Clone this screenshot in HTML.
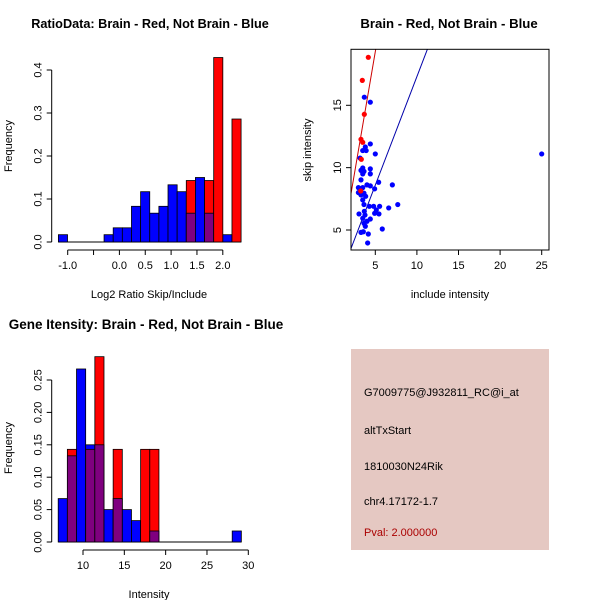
<!DOCTYPE html>
<html><head><meta charset="utf-8"><style>
body{margin:0;background:#fff;}
svg{display:block;font-family:"Liberation Sans",sans-serif;}
</style></head><body>
<svg id="c" width="600" height="600" xmlns="http://www.w3.org/2000/svg">
<rect width="600" height="600" fill="#fff"/>
</svg>
<script>
// ---- Data: ratio histogram
const ratioStart = -1.18;
const ratioBinW = 0.1767;
const ratioBlue = [0.017,0,0,0,0,0.017,0.033,0.033,0.083,0.117,0.067,0.083,0.133,0.117,0.067,0.15,0.067,0,0.017,0];
const ratioRed  = [0,0,0,0,0,0,0,0,0,0,0,0,0,0,0.143,0,0.143,0.429,0,0.286];
const ratioXTicks = [-1.0,-0.5,0.0,0.5,1.0,1.5,2.0];
const ratioXLabels = ["-1.0","","0.0","0.5","1.0","1.5","2.0"];
const ratioYTicks = [0,0.1,0.2,0.3,0.4];
const ratioYLabels = ["0.0","0.1","0.2","0.3","0.4"];
// ---- Data: intensity histogram
const intStart = 7;
const intBinW = 1.108;
const intBlue = [0.067,0.133,0.267,0.15,0.15,0.05,0.067,0.05,0.033,0,0.017,0,0,0,0,0,0,0,0,0.017];
const intRed  = [0,0.143,0,0.143,0.286,0,0.143,0,0,0.143,0.143,0,0,0,0,0,0,0,0,0];
const intXTicks = [10,15,20,25,30];
const intYTicks = [0,0.05,0.10,0.15,0.20,0.25];
const intYLabels = ["0.00","0.05","0.10","0.15","0.20","0.25"];
// ---- Data: scatter
const redX = [4.16,3.44,3.68,3.28,3.49,3.32,3.25];
const redY = [18.85,17.0,14.28,12.27,12.03,10.67,8.13];
const blueX = [3.68,4.4,4.4,3.8,3.49,3.9,5.0,3.17,25,3.49,3.28,3.64,4.4,4.4,3.49,3.28,5.4,7.05,4.0,4.4,2.97,3.49,4.92,2.97,3.64,3.28,3.84,3.49,3.64,4.28,4.8,5.52,7.7,6.61,5.12,3.04,3.68,3.76,4.92,5.44,3.49,4.4,4.0,3.64,3.8,5.84,3.28,3.56,4.16,4.08];
const blueY = [15.65,15.25,11.9,11.66,11.37,11.37,11.1,10.77,11.1,9.97,9.78,9.7,9.9,9.5,9.5,9.02,8.83,8.62,8.62,8.54,8.4,8.4,8.3,8.0,7.95,7.81,7.7,7.41,7.04,6.9,6.9,6.9,7.04,6.77,6.61,6.29,6.5,6.2,6.34,6.29,5.94,5.88,5.7,5.54,5.3,5.08,4.81,4.86,4.68,3.96];
const redLine = [3.9,-0.2];   // slope, intercept
const blueLine = [1.74,-0.1];
const scXTicks = [5,10,15,20,25];
const scYTicks = [5,10,15];

const svg = document.getElementById('c');
const NS = 'http://www.w3.org/2000/svg';
function mk(tag, attrs, parent){const e=document.createElementNS(NS,tag);for(const k in attrs)e.setAttribute(k,attrs[k]);(parent||svg).appendChild(e);return e;}
function txt(s, attrs){const e=mk('text',attrs);e.textContent=s;return e;}

function hist(gname, start, bw, blue, red, sx, sy){
  const g = mk('g',{});
  
  
  const base = mk('line',{x1:sx(start),x2:sx(start+blue.length*bw),y1:sy(0),y2:sy(0),stroke:'#000','stroke-width':1},g);
  
  
  for(let i=0;i<blue.length;i++){
    const x0=sx(start+i*bw), x1=sx(start+(i+1)*bw);
    const b=blue[i], r=red[i];
    const hi=Math.max(b,r), lo=Math.min(b,r);
    if(hi<=0) continue;
    const topCol = b>=r ? '#0000ff' : '#ff0000';
    const bar = mk('rect',{x:x0,y:sy(hi),width:x1-x0,height:sy(0)-sy(hi),fill:topCol,stroke:'#000','stroke-width':0.8},g);
    
    
    if(lo>0){
      const ov = mk('rect',{x:x0,y:sy(lo),width:x1-x0,height:sy(0)-sy(lo),fill:'#7f007f',stroke:'#000','stroke-width':0.8},g);
      
      
    }
  }
}
function yAxis(name, x, ticks, labels, sy){
  const g=mk('g',{});
  
  
  mk('line',{x1:x,x2:x,y1:sy(ticks[0]),y2:sy(ticks[ticks.length-1]),stroke:'#000'},g);
  ticks.forEach((t,i)=>{
    mk('line',{x1:x,x2:x-5,y1:sy(t),y2:sy(t),stroke:'#000'},g);
    const e=mk('text',{x:0,y:0,transform:`translate(${x-10},${sy(t)}) rotate(-90)`,'text-anchor':'middle','font-size':11},g);
    e.textContent=labels[i];
  });
}
function xAxis(name, y, ticks, labels, sx){
  const g=mk('g',{});
  
  
  mk('line',{x1:sx(ticks[0]),x2:sx(ticks[ticks.length-1]),y1:y,y2:y,stroke:'#000'},g);
  ticks.forEach((t,i)=>{
    mk('line',{x1:sx(t),x2:sx(t),y1:y,y2:y+5,stroke:'#000'},g);
    const e=mk('text',{x:sx(t),y:y+19,'text-anchor':'middle','font-size':11},g);
    e.textContent=labels[i];
  });
}

// ---- Panel 1
{
  const sx=v=>67.7+(v+1)*51.7, sy=v=>242-v*430;
  hist('ratio-histogram', ratioStart, ratioBinW, ratioBlue, ratioRed, sx, sy);
  yAxis('ratio-y-axis', 51.7, ratioYTicks, ratioYLabels, sy);
  xAxis('ratio-x-axis', 250, ratioXTicks, ratioXLabels, sx);
  const t=txt('RatioData: Brain - Red, Not Brain - Blue',{x:150,y:28,'text-anchor':'middle','font-size':12.7,'font-weight':'bold'});
   
  const xl=txt('Log2 Ratio Skip/Include',{x:149,y:298,'text-anchor':'middle','font-size':11});
   
  const yl=txt('Frequency',{x:0,y:0,transform:'translate(12,146) rotate(-90)','text-anchor':'middle','font-size':11});
   
}
// ---- Panel 3
{
  const sx=v=>83+(v-10)*8.265, sy=v=>542-v*648;
  hist('intensity-histogram', intStart, intBinW, intBlue, intRed, sx, sy);
  yAxis('intensity-y-axis', 51.7, intYTicks, intYLabels, sy);
  xAxis('intensity-x-axis', 550, intXTicks, intXTicks.map(String), sx);
  const t=txt('Gene Itensity: Brain - Red, Not Brain - Blue',{x:146,y:329,'text-anchor':'middle','font-size':13.5,'font-weight':'bold'});
   
  const xl=txt('Intensity',{x:149,y:598,'text-anchor':'middle','font-size':11});
   
  const yl=txt('Frequency',{x:0,y:0,transform:'translate(12,448) rotate(-90)','text-anchor':'middle','font-size':11});
   
}
// ---- Panel 2 scatter
{
  const sx=v=>375.3+(v-5)*8.32, sy=v=>230-(v-5)*12.47;
  const L=351,R=549,T=49.3,B=250;
  const clip=mk('clipPath',{id:'scclip'}); mk('rect',{x:L,y:T,width:R-L,height:B-T},clip);
  const g=mk('g',{'clip-path':'url(#scclip)'});
   
  const xa=2, xb=26;
  const rl=mk('line',{x1:sx(xa),y1:sy(redLine[0]*xa+redLine[1]),x2:sx(xb),y2:sy(redLine[0]*xb+redLine[1]),stroke:'#cc0000','stroke-width':1},g);
   
  const bl=mk('line',{x1:sx(xa),y1:sy(blueLine[0]*xa+blueLine[1]),x2:sx(xb),y2:sy(blueLine[0]*xb+blueLine[1]),stroke:'#0000aa','stroke-width':1},g);
   
  blueX.forEach((x,i)=>{
    const c=mk('circle',{cx:sx(x),cy:sy(blueY[i]),r:2.6,fill:'#0000ff'},g);
     
  });
  redX.forEach((x,i)=>{
    const c=mk('circle',{cx:sx(x),cy:sy(redY[i]),r:2.6,fill:'#ff0000'},g);
     
  });
  const box=mk('rect',{x:L,y:T,width:R-L,height:B-T,fill:'none',stroke:'#000'});
   
  scXTicks.forEach(t=>{
    mk('line',{x1:sx(t),x2:sx(t),y1:B,y2:B+5,stroke:'#000'});
    const e=txt(String(t),{x:sx(t),y:B+19,'text-anchor':'middle','font-size':11});
     
  });
  scYTicks.forEach(t=>{
    mk('line',{x1:L,x2:L-5,y1:sy(t),y2:sy(t),stroke:'#000'});
    const e=txt(String(t),{x:0,y:0,transform:`translate(${L-10},${sy(t)}) rotate(-90)`,'text-anchor':'middle','font-size':11});
     
  });
  const t=txt('Brain - Red, Not Brain - Blue',{x:449,y:28,'text-anchor':'middle','font-size':13.2,'font-weight':'bold'});
   
  const xl=txt('include intensity',{x:450,y:298,'text-anchor':'middle','font-size':11});
   
  const yl=txt('skip intensity',{x:0,y:0,transform:'translate(311,150) rotate(-90)','text-anchor':'middle','font-size':11});
   
}
// ---- Panel 4 info
{
  const r=mk('rect',{x:351,y:349,width:198,height:201,fill:'#e5c8c2'});
   
  const lines=[['G7009775@J932811_RC@i_at',396,'#000','probe-id'],['altTxStart',434,'#000','event-type'],['1810030N24Rik',470,'#000','gene-name'],['chr4.17172-1.7',505,'#000','location'],['Pval: 2.000000',536,'#aa0000','p-value']];
  lines.forEach(l=>{
    const e=txt(l[0],{x:364,y:l[1],'font-size':11,fill:l[2]});
     
  });
}
</script>
</body></html>
